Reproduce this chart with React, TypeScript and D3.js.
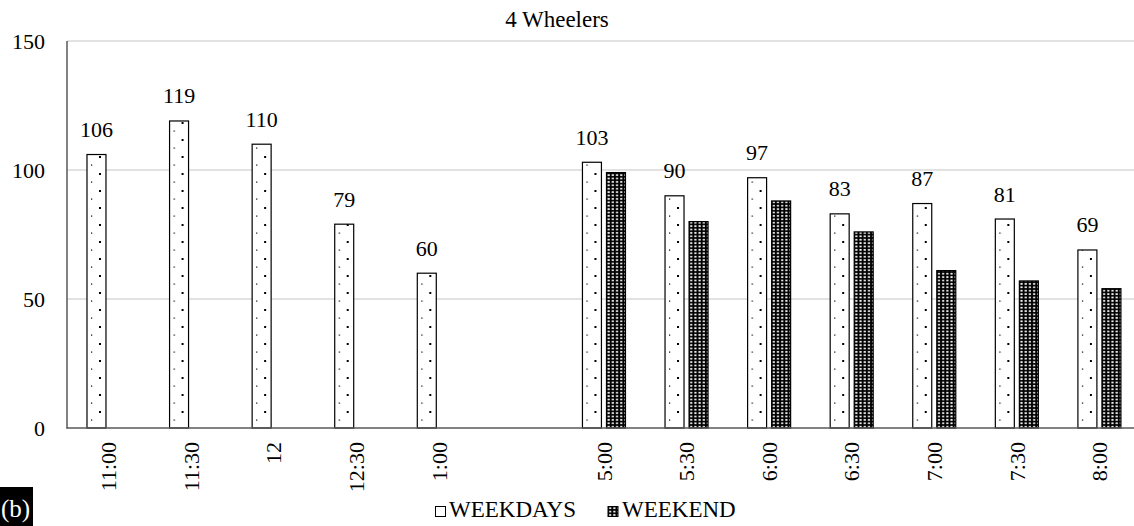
import React from "react";
import * as d3 from "d3";

// Time slots along the x axis; the blank slot separates morning from evening
const categories = ["11:00", "11:30", "12", "12:30", "1:00", "", "5:00", "5:30", "6:00", "6:30", "7:00", "7:30", "8:00"];
const weekdays: (number | null)[] = [106, 119, 110, 79, 60, null, 103, 90, 97, 83, 87, 81, 69];
const weekend: (number | null)[] = [null, null, null, null, null, null, 99, 80, 88, 76, 61, 57, 54];
const seriesNames = ["WEEKDAYS", "WEEKEND"];
const yTicks = [0, 50, 100, 150];
const title = "4 Wheelers";
const panelTag = "(b)";

const W = 1134;
const H = 526;
const FONT = "'Liberation Serif', 'Times New Roman', serif";

export default function App() {
  const x = d3.scaleBand<number>()
    .domain(d3.range(categories.length))
    .range([67.5, 1141])
    .padding(0);
  const bw = x.bandwidth();
  const inner = d3.scaleBand<string>()
    .domain(seriesNames)
    .range([bw * 0.236, bw * 0.757])
    .paddingInner(0.21);
  const y = d3.scaleLinear().domain([0, 150]).range([428, 41]);

  const barW = inner.bandwidth();

  const renderBar = (v: number | null, i: number, s: string) => {
    if (v == null) return null;
    const bx = (x(i) as number) + (inner(s) as number);
    const top = y(v);
    return (
      <g key={s + i} transform={`translate(${bx},0)`}>
        <rect
          x={0}
          y={top}
          width={barW}
          height={y(0) - top}
          fill={s === "WEEKDAYS" ? "url(#dotsWeekday)" : "url(#gridWeekend)"}
          stroke="#000"
          strokeWidth={1.2}
        />
      </g>
    );
  };

  return (
    <svg width={W} height={H} style={{ position: "absolute", left: 0, top: 0, background: "#fff" }}>
      <defs>
        <pattern id="dotsWeekday" patternUnits="userSpaceOnUse" width={17} height={17}>
          <rect width={17} height={17} fill="#fff" />
          <rect x={12} y={3} width={2} height={2} fill="#000" />
          <rect x={4} y={11.5} width={1.2} height={1.2} fill="#000" />
        </pattern>
        <pattern id="gridWeekend" patternUnits="userSpaceOnUse" width={4.2} height={3.4}>
          <rect width={4.2} height={3.4} fill="#000" />
          <rect x={1.1} y={0.8} width={2.1} height={1.8} fill="#f0f0f0" />
        </pattern>
      </defs>

      {/* title */}
      <text x={557} y={27} textAnchor="middle" fontFamily={FONT} fontSize={23} fill="#000">
        {title}
      </text>

      {/* horizontal gridlines */}
      {yTicks.filter((t) => t > 0).map((t) => (
        <line key={t} x1={67} x2={W} y1={y(t)} y2={y(t)} stroke="#d9d9d9" strokeWidth={1.5} />
      ))}

      {/* y tick labels */}
      {yTicks.map((t) => (
        <text key={t} x={45} y={y(t)} textAnchor="end" dominantBaseline="central" fontFamily={FONT} fontSize={22} fill="#000">
          {t}
        </text>
      ))}

      {/* bars */}
      {weekdays.map((v, i) => renderBar(v, i, "WEEKDAYS"))}
      {weekend.map((v, i) => renderBar(v, i, "WEEKEND"))}

      {/* weekday value labels */}
      {weekdays.map((v, i) =>
        v == null ? null : (
          <text
            key={"lbl" + i}
            x={(x(i) as number) + (inner("WEEKDAYS") as number) + barW / 2}
            y={y(v) - 17.5}
            textAnchor="middle"
            fontFamily={FONT}
            fontSize={22}
            fill="#000"
          >
            {v}
          </text>
        )
      )}

      {/* axes */}
      <line x1={67} x2={67} y1={41} y2={428.5} stroke="#595959" strokeWidth={1.5} />
      <line x1={66.5} x2={W} y1={428} y2={428} stroke="#595959" strokeWidth={1.5} />

      {/* category labels */}
      {categories.map((c, i) => (
        <text
          key={"cat" + i}
          transform={`translate(${(x(i) as number) + bw / 2},442) rotate(-90)`}
          textAnchor="end"
          dominantBaseline="central"
          fontFamily={FONT}
          fontSize={22}
          fill="#000"
        >
          {c}
        </text>
      ))}

      {/* legend */}
      <rect x={435.5} y={506.5} width={10} height={10} fill="#fff" stroke="#000" strokeWidth={1} />
      <text x={449} y={517} fontFamily={FONT} fontSize={23} fill="#000">{seriesNames[0]}</text>
      <g transform="translate(608,506.5)">
        <rect x={0} y={0} width={10} height={10} fill="url(#gridWeekend)" stroke="#000" strokeWidth={1} />
      </g>
      <text x={622} y={517} fontFamily={FONT} fontSize={23} fill="#000">{seriesNames[1]}</text>

      {/* panel tag */}
      <rect x={0} y={487} width={33} height={39} fill="#000" />
      <text x={1} y={517} fontFamily={FONT} fontSize={25} fill="#fff">{panelTag}</text>
    </svg>
  );
}
